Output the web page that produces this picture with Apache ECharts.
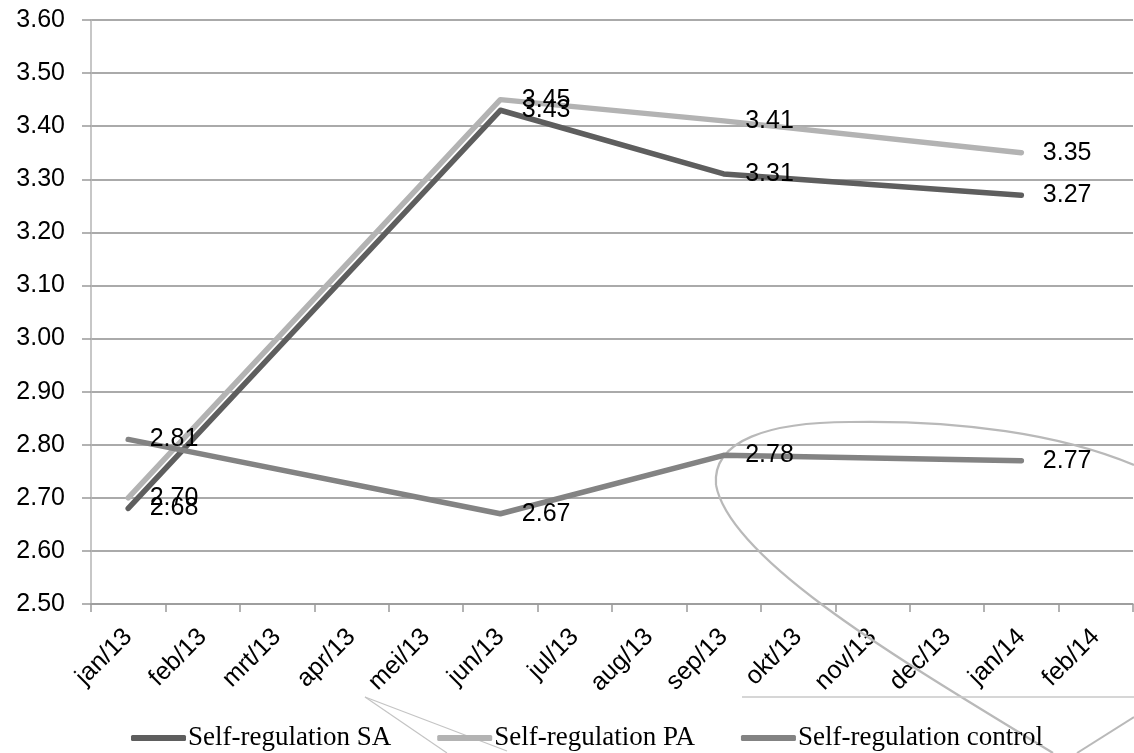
<!DOCTYPE html>
<html>
<head>
<meta charset="utf-8">
<script src="https://cdn.jsdelivr.net/npm/echarts@6/dist/echarts.min.js"></script>
<style>
  html, body { margin: 0; padding: 0; background: #ffffff; }
  #chart { width: 1134px; height: 753px; }
</style>
</head>
<body>
<div id="chart"></div>
<script>
// Month categories along the x axis
const months = ['jan/13', 'feb/13', 'mrt/13', 'apr/13', 'mei/13', 'jun/13', 'jul/13',
                'aug/13', 'sep/13', 'okt/13', 'nov/13', 'dec/13', 'jan/14', 'feb/14'];

// Measurements (null = no measurement that month; lines connect across gaps)
const selfRegSA      = [2.68, null, null, null, null, 3.43, null, null, 3.31, null, null, null, 3.27, null];
const selfRegPA      = [2.70, null, null, null, null, 3.45, null, null, 3.41, null, null, null, 3.35, null];
const selfRegControl = [2.81, null, null, null, null, 2.67, null, null, 2.78, null, null, null, 2.77, null];

// Value axis range
const yMin = 2.5;
const yMax = 3.6;
const yStep = 0.1;

const seriesNames = ['Self-regulation SA', 'Self-regulation PA', 'Self-regulation control'];
const seriesColors = ['#5e5e5e', '#b3b3b3', '#838383'];
const seriesData = [selfRegSA, selfRegPA, selfRegControl];

const SANS = '"Liberation Sans", Arial, sans-serif';
const SERIF = '"Liberation Serif", "Times New Roman", serif';

const chart = echarts.init(document.getElementById('chart'), null, { renderer: 'canvas' });

const series = seriesNames.map((name, i) => ({
  name: name,
  type: 'line',
  data: seriesData[i],
  connectNulls: true,
  showSymbol: true,
  symbol: 'circle',
  symbolSize: 1,
  itemStyle: { color: 'rgba(0,0,0,0)', borderWidth: 0 },
  lineStyle: { color: seriesColors[i], width: 5.5, cap: 'round', join: 'round' },
  emphasis: { disabled: true },
  animation: false,
  label: {
    show: true,
    position: 'right',
    distance: 21,
    color: '#000000',
    fontFamily: SANS,
    fontSize: 25,
    formatter: p => p.value == null ? '' : Number(p.value).toFixed(2)
  }
}));

// Stray pen strokes lying over the lower right of the figure
const strayStroke = { stroke: '#b9b9b9', lineWidth: 2.2, fill: null };
const curve = (x1, y1, cpx1, cpy1, cpx2, cpy2, x2, y2) => ({
  type: 'bezierCurve', silent: true, z: 1,
  shape: { x1, y1, cpx1, cpy1, cpx2, cpy2, x2, y2 },
  style: strayStroke
});
const graphic = [
  curve(1053, 753, 900, 660, 730, 560, 716, 485),
  curve(716, 485, 712, 440, 770, 422, 850, 422),
  curve(850, 422, 960, 420, 1060, 434, 1134, 465),
  { type: 'line', silent: true, z: 1, shape: { x1: 1134, y1: 717, x2: 1077, y2: 753 }, style: { stroke: '#b9b9b9', lineWidth: 2 } },
  { type: 'line', silent: true, z: 1, shape: { x1: 742, y1: 697, x2: 1134, y2: 697 }, style: { stroke: '#c8c8c8', lineWidth: 1.5 } },
  { type: 'line', silent: true, z: 1, shape: { x1: 365, y1: 697, x2: 447, y2: 753 }, style: { stroke: '#c4c4c4', lineWidth: 1.2 } },
  { type: 'line', silent: true, z: 1, shape: { x1: 365, y1: 697, x2: 507, y2: 751 }, style: { stroke: '#c4c4c4', lineWidth: 1.2 } }
];

chart.setOption({
  backgroundColor: '#ffffff',
  animation: false,
  grid: { left: 91, right: 1, top: 20, bottom: 149, containLabel: false },
  legend: {
    data: seriesNames.map((name, i) => ({
      name: name,
      itemStyle: { color: seriesColors[i], opacity: 1, borderWidth: 0 }
    })),
    left: 126,
    top: 718,
    icon: 'roundRect',
    itemWidth: 55,
    itemHeight: 6,
    itemGap: 46,
    selectedMode: false,
    textStyle: { fontFamily: SERIF, fontSize: 27, color: '#000000', lineHeight: 30, padding: [0, 0, 0, -3] }
  },
  xAxis: {
    type: 'category',
    data: months,
    boundaryGap: true,
    axisLine: { show: true, lineStyle: { color: '#9a9a9a', width: 1.5 } },
    axisTick: { show: true, length: 8, alignWithLabel: false, lineStyle: { color: '#9a9a9a', width: 1.5 } },
    axisLabel: {
      interval: 0,
      rotate: 45,
      margin: 29,
      align: 'right',
      verticalAlign: 'middle',
      color: '#000000',
      fontFamily: SANS,
      fontSize: 25
    },
    splitLine: { show: false }
  },
  yAxis: {
    type: 'value',
    min: yMin,
    max: yMax,
    interval: yStep,
    axisLine: { show: true, lineStyle: { color: '#b5b5b5', width: 1.5 } },
    axisTick: { show: true, length: 9, lineStyle: { color: '#9a9a9a', width: 1.5 } },
    axisLabel: {
      margin: 26,
      color: '#000000',
      fontFamily: SANS,
      fontSize: 25,
      formatter: v => v.toFixed(2)
    },
    splitLine: { show: true, lineStyle: { color: '#8e8e8e', width: 1.5 } }
  },
  series: series,
  graphic: graphic
});
</script>
</body>
</html>
